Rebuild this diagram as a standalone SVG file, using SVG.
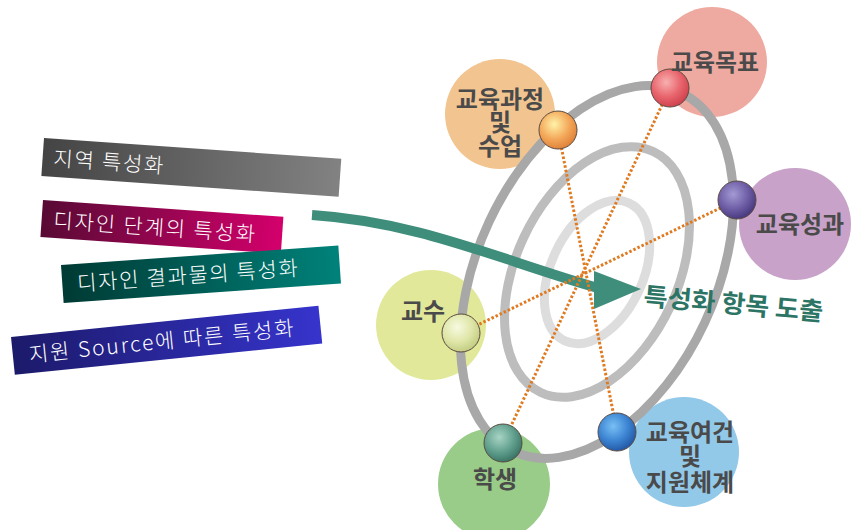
<svg xmlns="http://www.w3.org/2000/svg" width="856" height="530" viewBox="0 0 856 530">
<defs>
<linearGradient id="g1" x1="0" y1="0" x2="1" y2="0"><stop offset="0" stop-color="#444444"/><stop offset="1" stop-color="#828282"/></linearGradient>
<linearGradient id="g2" x1="0" y1="0" x2="1" y2="0"><stop offset="0" stop-color="#580a34"/><stop offset="1" stop-color="#d4006c"/></linearGradient>
<linearGradient id="g3" x1="0" y1="0" x2="1" y2="0"><stop offset="0" stop-color="#003a34"/><stop offset="1" stop-color="#00827a"/></linearGradient>
<linearGradient id="g4" x1="0" y1="0" x2="1" y2="0"><stop offset="0" stop-color="#1c1a6a"/><stop offset="1" stop-color="#3634cc"/></linearGradient>
<radialGradient id="sOrange" cx="0.4" cy="0.35" r="0.65"><stop offset="0" stop-color="#fff2a8"/><stop offset="0.6" stop-color="#f4a85a"/><stop offset="1" stop-color="#e0843a"/></radialGradient>
<radialGradient id="sRed" cx="0.4" cy="0.35" r="0.65"><stop offset="0" stop-color="#f8b0b0"/><stop offset="0.6" stop-color="#e8646c"/><stop offset="1" stop-color="#d04450"/></radialGradient>
<radialGradient id="sPurple" cx="0.4" cy="0.35" r="0.65"><stop offset="0" stop-color="#a49ad4"/><stop offset="0.6" stop-color="#6e5ea6"/><stop offset="1" stop-color="#4a3a80"/></radialGradient>
<radialGradient id="sYellow" cx="0.4" cy="0.35" r="0.65"><stop offset="0" stop-color="#f8fae0"/><stop offset="0.6" stop-color="#dfe6a8"/><stop offset="1" stop-color="#c4ce84"/></radialGradient>
<radialGradient id="sTeal" cx="0.4" cy="0.35" r="0.65"><stop offset="0" stop-color="#a8d4c4"/><stop offset="0.6" stop-color="#62a08e"/><stop offset="1" stop-color="#3c7868"/></radialGradient>
<radialGradient id="sBlue" cx="0.4" cy="0.35" r="0.65"><stop offset="0" stop-color="#78c0f4"/><stop offset="0.6" stop-color="#3c84d2"/><stop offset="1" stop-color="#245aa8"/></radialGradient>
</defs>
<style>
.bt{font-family:"Noto Sans CJK KR","Noto Sans",sans-serif;font-size:21px;font-weight:300;fill:#ffffff}
.lb{font-family:"Noto Sans CJK KR","Noto Sans",sans-serif;font-size:24px;font-weight:700;fill:#4a4a4a;text-anchor:middle}
.sp{stroke:#5a4a40;stroke-width:1}
.dot{stroke:#e07a20;stroke-width:3;stroke-dasharray:2.5 2;fill:none}
.ring{fill:none;stroke-width:9}
</style>

<g id="banner-1" transform="translate(44,138) rotate(4)"><rect width="298" height="38" fill="url(#g1)"/><text class="bt" x="11" y="27" textLength="110" lengthAdjust="spacing">지역 특성화</text></g>
<g id="banner-2" transform="translate(43,200) rotate(4)"><rect width="241" height="37" fill="url(#g2)"/><text class="bt" x="12" y="27" textLength="202" lengthAdjust="spacing">디자인 단계의 특성화</text></g>
<g id="banner-3" transform="translate(61,265) rotate(-4)"><rect width="278" height="38" fill="url(#g3)"/><text class="bt" x="15" y="27" textLength="221" lengthAdjust="spacing">디자인 결과물의 특성화</text></g>
<g id="banner-4" transform="translate(11,337) rotate(-5.8)"><rect width="309" height="38" fill="url(#g4)"/><text class="bt" x="16" y="27" textLength="266" lengthAdjust="spacing">지원 Source에 따른 특성화</text></g>

<g id="bg-circles">
<circle cx="500" cy="114" r="55" fill="#f2c490"/>
<circle cx="712" cy="62" r="55" fill="#eeaaa0"/>
<circle cx="795" cy="224" r="56" fill="#c8a2c8"/>
<circle cx="431" cy="325" r="55" fill="#e2e89a"/>
<circle cx="494" cy="484" r="56" fill="#98cc88"/>
<circle cx="684" cy="452" r="55" fill="#92c8e8"/>
</g>

<g id="rings" transform="translate(597,272) rotate(25)">
<ellipse class="ring" rx="46" ry="76" stroke="#dddddd"/>
<ellipse class="ring" rx="81" ry="133" stroke="#bdbdbd"/>
<ellipse class="ring" rx="119" ry="198" stroke="#a8a8a8"/>
</g>

<g id="connectors">
<path d="M312,215 C420,222 500,260 598,288" fill="none" stroke="#3f8e7c" stroke-width="10"/>
<polygon points="594,271 641,289 594,309" fill="#3f8e7c"/>
<line class="dot" x1="558" y1="130" x2="617" y2="432"/>
<line class="dot" x1="670" y1="88" x2="503" y2="443"/>
<line class="dot" x1="737" y1="200" x2="461" y2="333"/>
</g>

<g id="node-result"><text transform="translate(643,305) rotate(5)" textLength="180" lengthAdjust="spacingAndGlyphs" style="font-family:'Noto Sans CJK KR','Noto Sans',sans-serif;font-size:25px;font-weight:700;fill:#2c7464">특성화 항목 도출</text></g>

<g id="node-curriculum"><circle class="sp" cx="558" cy="130" r="19" fill="url(#sOrange)"/><text class="lb" x="500" y="108">교육과정<tspan x="500" dy="23">및</tspan><tspan x="500" dy="24">수업</tspan></text></g>
<g id="node-goal"><circle class="sp" cx="670" cy="88" r="19" fill="url(#sRed)"/><text class="lb" x="715" y="71">교육목표</text></g>
<g id="node-outcome"><circle class="sp" cx="737" cy="200" r="19" fill="url(#sPurple)"/><text class="lb" x="800" y="233">교육성과</text></g>
<g id="node-professor"><circle class="sp" cx="461" cy="333" r="19" fill="url(#sYellow)"/><text class="lb" x="423" y="320">교수</text></g>
<g id="node-student"><circle class="sp" cx="503" cy="443" r="19" fill="url(#sTeal)"/><text class="lb" x="495" y="488">학생</text></g>
<g id="node-support"><circle class="sp" cx="617" cy="432" r="19" fill="url(#sBlue)"/><text class="lb" x="690" y="441">교육여건<tspan x="690" dy="24">및</tspan><tspan x="690" dy="26">지원체계</tspan></text></g>
</svg>
